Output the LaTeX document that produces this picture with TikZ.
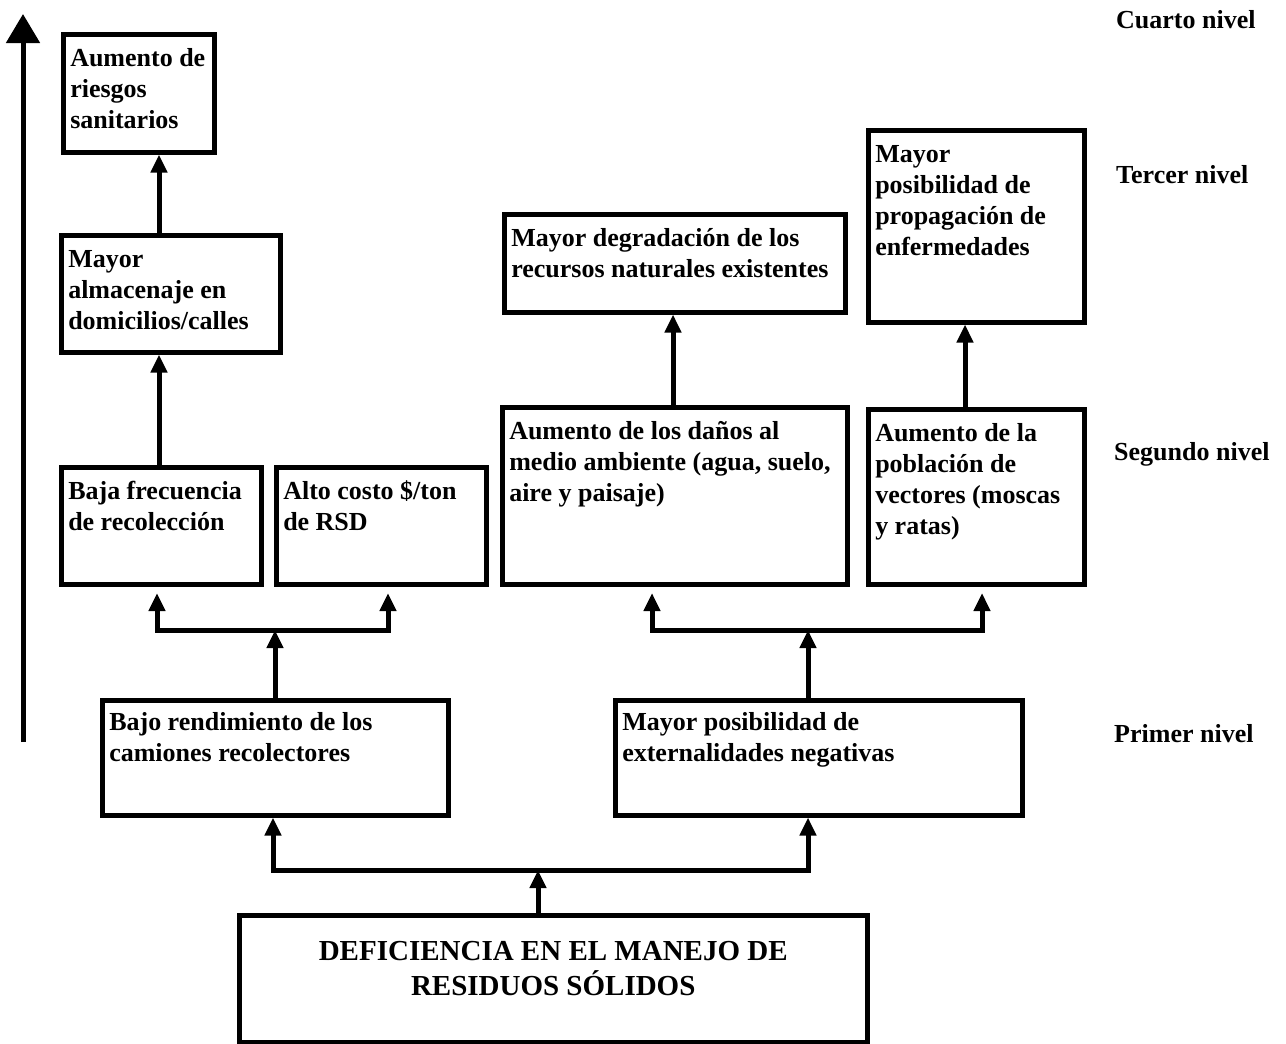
\documentclass[tikz,border=0pt]{standalone}
\usepackage{fontspec}
\setmainfont{Liberation Serif}
\usetikzlibrary{arrows.meta}

% text block of a box: width, height, first-baseline drop, content
\newcommand{\celltext}[4]{\begin{minipage}[t][#2pt][t]{#1pt}\raggedright\leftskip=7pt\rule{0pt}{#3pt}#4\end{minipage}}

\tikzset{
  cell/.style={draw, line width=4.5pt, inner sep=0pt, anchor=north west,
    font=\bfseries\fontsize{26}{31}\selectfont},
  lvl/.style={inner sep=0pt, anchor=base west,
    font=\bfseries\fontsize{26}{31}\selectfont},
  conn/.style={line width=5pt, -{Triangle[width=16pt,length=18pt]}},
  bar/.style={line width=5pt, line cap=rect},
}

\begin{document}
\begin{tikzpicture}[x=1pt, y=-1pt]
\useasboundingbox (0,0) rectangle (1286,1044);

% level labels
\node[lvl] (n4) at (1116,28) {Cuarto nivel};
\node[lvl] (n3) at (1116,183) {Tercer nivel};
\node[lvl] (n2) at (1114,460) {Segundo nivel};
\node[lvl] (n1) at (1114,742) {Primer nivel};

% boxes
\node[cell] (A) at (61,32) {\celltext{151}{118}{32}{Aumento de\\riesgos\\sanitarios}};
\node[cell] (B) at (59,233) {\celltext{219}{117}{32}{Mayor\\almacenaje en\\domicilios/calles}};
\node[cell] (C) at (59,465) {\celltext{200}{117}{32}{Baja frecuencia\\de recolección}};
\node[cell] (D) at (274,465) {\celltext{210}{117}{32}{Alto costo \$/ton\\de RSD}};
\node[cell] (E) at (500,405) {\celltext{345}{177}{32}{Aumento de los daños al\\medio ambiente (agua, suelo,\\aire y paisaje)}};
\node[cell] (F) at (502,212) {\celltext{341}{98}{32}{Mayor degradación de los\\recursos naturales existentes}};
\node[cell] (G) at (866,128) {\celltext{216}{192}{32}{Mayor\\posibilidad de\\propagación de\\enfermedades}};
\node[cell] (H) at (866,407) {\celltext{216}{175}{32}{Aumento de la\\población de\\vectores (moscas\\y ratas)}};
\node[cell] (I) at (100,698) {\celltext{346}{115}{30}{Bajo rendimiento de los\\camiones recolectores}};
\node[cell] (J) at (613,698) {\celltext{407}{115}{30}{Mayor posibilidad de\\externalidades negativas}};
\node[cell] (K) at (237,913) {\begin{minipage}[t][127pt][t]{628pt}\centering\fontsize{29}{35}\selectfont\rule{0pt}{45pt}DEFICIENCIA EN EL MANEJO DE\\RESIDUOS SÓLIDOS\end{minipage}};

% level axis
\coordinate (axb) at (23,742);
\coordinate (axt) at (23,14);
\draw[line width=5pt, -{Triangle[width=33pt,length=29pt]}] (axb) -- (axt);

% junction points
\coordinate (jl) at (275,630);
\coordinate (jr) at (808,630);
\coordinate (jb) at (538,870);

% first level -> second level
\draw[conn] (275,0 |- I.north) -- (jl);
\draw[bar] (157,630) -- (388,630);
\draw[conn] (157,630) -- (157,593);
\draw[conn] (388,630) -- (388,593);

\draw[conn] (808,0 |- J.north) -- (jr);
\draw[bar] (652,630) -- (982,630);
\draw[conn] (652,630) -- (652,593);
\draw[conn] (982,630) -- (982,593);

% root -> first level
\draw[conn] (538,0 |- K.north) -- (jb);
\draw[bar] (273,870) -- (808,870);
\draw[conn] (273,870) -- (273,0 |- I.south);
\draw[conn] (808,870) -- (808,0 |- J.south);

% upward links
\draw[conn] (159,0 |- C.north) -- (159,0 |- B.south);
\draw[conn] (159,0 |- B.north) -- (159,0 |- A.south);
\draw[conn] (673,0 |- E.north) -- (673,0 |- F.south);
\draw[conn] (965,0 |- H.north) -- (965,0 |- G.south);
\end{tikzpicture}
\end{document}
